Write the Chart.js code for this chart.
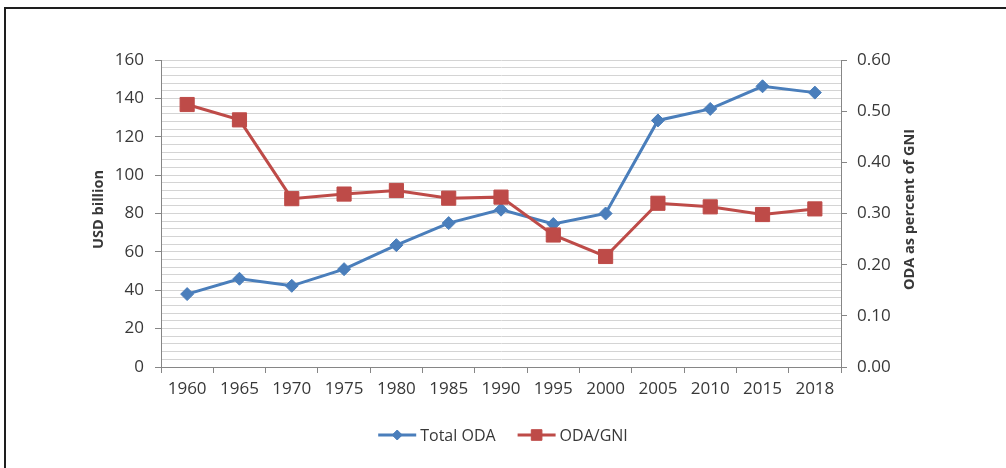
<!DOCTYPE html>
<html>
<head>
<meta charset="utf-8">
<title>ODA chart</title>
<script src="https://cdn.jsdelivr.net/npm/chart.js@4.4.1/dist/chart.umd.min.js"></script>
<style>
  html, body { margin: 0; padding: 0; background: #fff; }
  #wrap { position: relative; width: 1006px; height: 468px; overflow: hidden; }
  #frame {
    position: absolute; left: 4px; top: 7px; width: 1010px; height: 470px;
    border-top: 2px solid #1e1e1e; border-left: 2px solid #1e1e1e;
    pointer-events: none;
  }
</style>
</head>
<body>
<div id="wrap">
  <canvas id="odaChart" width="1006" height="468"></canvas>
  <div id="frame"></div>
</div>
<script>
// data
var years = ['1960', '1965', '1970', '1975', '1980', '1985', '1990', '1995', '2000', '2005', '2010', '2015', '2018'];
var totalOda = [38, 46, 42.3, 51, 63.5, 75, 82, 74.5, 80, 128.5, 134.5, 146.3, 143];   // USD billion
var odaGni = [0.513, 0.483, 0.329, 0.338, 0.345, 0.330, 0.332, 0.258, 0.216, 0.320, 0.313, 0.298, 0.309]; // % of GNI
var seriesNames = ['Total ODA', 'ODA/GNI'];
var leftTitle = 'USD billion';
var rightTitle = 'ODA as percent of GNI';

var blue = '#4A7EBB';
var red = '#BE4B48';
var axisGrey = '#868686';
var gridGrey = '#d4d4d4';
var textCol = '#383838';
var fontFam = "'Open Sans', 'Liberation Sans', sans-serif";

// legend marker sizes (smaller than on the lines)
var legendRadius = [5, 7.5];

// axis titles + legend drawn by hand (right title reads bottom-to-top like the original)
var extrasPlugin = {
    id: 'extras',
    afterDraw: function (chart) {
        var ctx = chart.ctx;
        var area = chart.chartArea;
        var midY = (area.top + area.bottom) / 2 - 4;

        ctx.save();
        ctx.fillStyle = textCol;
        ctx.font = 'bold 14.5px ' + fontFam;
        ctx.textAlign = 'center';
        ctx.textBaseline = 'middle';
        [[99, leftTitle], [910, rightTitle]].forEach(function (t) {
            ctx.save();
            ctx.translate(t[0], midY);
            ctx.rotate(-Math.PI / 2);
            ctx.fillText(t[1], 0, 0);
            ctx.restore();
        });

        // legend
        ctx.font = '16px ' + fontFam;
        ctx.textAlign = 'left';
        var sample = 38, gap = 4, itemGap = 22, ly = 435;
        var widths = chart.data.datasets.map(function (ds) {
            return sample + gap + ctx.measureText(ds.label).width;
        });
        var total = widths.reduce(function (a, b) { return a + b; }, 0) + itemGap * (widths.length - 1);
        var x = chart.width / 2 - total / 2;
        chart.data.datasets.forEach(function (ds, i) {
            ctx.strokeStyle = ds.borderColor;
            ctx.lineWidth = 3;
            ctx.beginPath();
            ctx.moveTo(x, ly);
            ctx.lineTo(x + sample, ly);
            ctx.stroke();
            ctx.fillStyle = ds.pointBackgroundColor;
            ctx.strokeStyle = ds.pointBorderColor;
            ctx.lineWidth = 1;
            Chart.helpers.drawPoint(ctx, {
                pointStyle: ds.pointStyle,
                radius: legendRadius[i],
                borderWidth: 1
            }, x + sample / 2, ly);
            ctx.fillStyle = textCol;
            ctx.fillText(ds.label, x + sample + gap, ly + 1);
            x += widths[i] + itemGap;
        });
        ctx.restore();
    }
};

var ctx1 = document.getElementById('odaChart').getContext('2d');
var odaChart = new Chart(ctx1, {
    type: 'line',
    data: {
        labels: years,
        datasets: [{
            label: seriesNames[0],
            data: totalOda,
            yAxisID: 'y',
            borderColor: blue,
            backgroundColor: blue,
            pointBackgroundColor: blue,
            pointBorderColor: blue,
            borderWidth: 3,
            pointStyle: 'rectRot',
            pointRadius: 6.5,
            pointBorderWidth: 1,
            tension: 0,
            order: 1
        }, {
            label: seriesNames[1],
            data: odaGni,
            yAxisID: 'y1',
            borderColor: red,
            backgroundColor: red,
            pointBackgroundColor: red,
            pointBorderColor: red,
            borderWidth: 3,
            pointStyle: 'rect',
            pointRadius: 10,
            pointBorderWidth: 1,
            tension: 0,
            order: 0
        }]
    },
    options: {
        responsive: false,
        animation: false,
        layout: { padding: { top: 60, left: 0, right: 0, bottom: 71 } },
        plugins: {
            legend: { display: false },
            tooltip: { enabled: false }
        },
        scales: {
            x: {
                offset: true,
                afterFit: function (s) { s.height = 30; },
                grid: { offset: true, drawOnChartArea: false, tickLength: 6, color: axisGrey },
                border: { color: axisGrey },
                ticks: { color: textCol, font: { family: fontFam, size: 17 }, padding: 6, maxRotation: 0, autoSkip: false }
            },
            y: {
                position: 'left',
                min: 0,
                max: 160,
                afterFit: function (s) { s.width = 161; },
                grid: {
                    color: gridGrey,
                    tickLength: 6,
                    tickColor: function (c) { return c.tick && c.tick.value % 20 === 0 ? axisGrey : 'rgba(0,0,0,0)'; }
                },
                border: { color: axisGrey },
                ticks: {
                    stepSize: 4,
                    autoSkip: false,
                    color: textCol,
                    font: { family: fontFam, size: 17 },
                    padding: 11,
                    callback: function (v) { return v % 20 === 0 ? v : ''; }
                }
            },
            y1: {
                position: 'right',
                min: 0,
                max: 0.6,
                afterFit: function (s) { s.width = 165; },
                grid: { drawOnChartArea: false, tickLength: 6, color: axisGrey },
                border: { color: axisGrey },
                ticks: {
                    stepSize: 0.1,
                    color: textCol,
                    font: { family: fontFam, size: 17 },
                    padding: 10,
                    callback: function (v) { return Number(v).toFixed(2); }
                }
            }
        }
    },
    plugins: [extrasPlugin]
});
</script>
</body>
</html>
